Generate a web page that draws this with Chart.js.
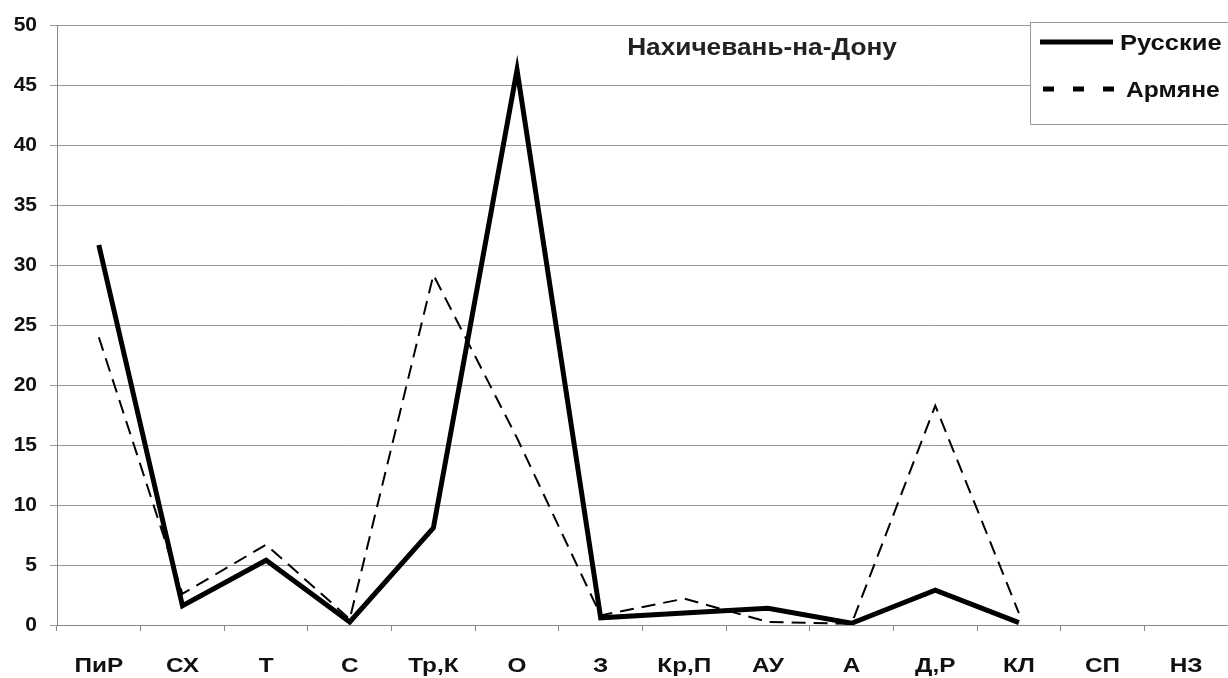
<!DOCTYPE html>
<html>
<head>
<meta charset="utf-8">
<script src="https://cdn.jsdelivr.net/npm/chart.js@4/dist/chart.umd.min.js"></script>
<style>
  html, body { margin: 0; padding: 0; background: #fff; }
  #wrap { width: 1228px; height: 678px; position: relative; }
</style>
</head>
<body>
<div id="wrap"><canvas id="chart" width="1228" height="678"></canvas></div>
<script>
const categories = ['ПиР', 'СХ', 'Т', 'С', 'Тр,К', 'О', 'З', 'Кр,П', 'АУ', 'А', 'Д,Р', 'КЛ', 'СП', 'НЗ'];
const russians = [31.7, 1.6, 5.4, 0.25, 8.1, 46.3, 0.6, 1.0, 1.4, 0.15, 2.9, 0.2, null, null];
const armenians = [24.0, 2.6, 6.7, 0.5, 29.2, 15.6, 0.8, 2.2, 0.25, 0.1, 18.3, 1.0, null, null];
const yTicks = [0, 5, 10, 15, 20, 25, 30, 35, 40, 45, 50];

const FONT = 'Liberation Sans, Arial, sans-serif';

// the original lettering is a slightly wide bold face: stretch text horizontally
function wideText(ctx, text, x, y, align, sx) {
  ctx.save();
  ctx.translate(x, y);
  ctx.scale(sx, 1);
  ctx.textAlign = align;
  ctx.fillText(text, 0, 0);
  ctx.restore();
}

// category labels, title inside the plot, framed legend top right
const overlay = {
  id: 'overlay',
  afterDraw(chart) {
    const ctx = chart.ctx;
    const x = chart.scales.x;
    ctx.save();
    ctx.fillStyle = '#111';
    ctx.textBaseline = 'alphabetic';
    ctx.font = 'bold 21px ' + FONT;
    categories.forEach((c, i) => {
      wideText(ctx, c, x.getPixelForTick(i), 672, 'center', 1.16);
    });

    ctx.fillStyle = '#222';
    ctx.font = 'bold 23px ' + FONT;
    wideText(ctx, 'Нахичевань-на-Дону', 762, 55, 'center', 1.14);

    ctx.fillStyle = '#fff';
    ctx.fillRect(1030, 22, 198, 102);
    ctx.strokeStyle = '#999';
    ctx.lineWidth = 1;
    ctx.strokeRect(1030.5, 22.5, 198, 102);

    ctx.strokeStyle = '#000';
    ctx.lineWidth = 5;
    ctx.setLineDash([]);
    ctx.beginPath(); ctx.moveTo(1040, 42); ctx.lineTo(1113, 42); ctx.stroke();
    ctx.setLineDash([11, 19]);
    ctx.beginPath(); ctx.moveTo(1043, 89); ctx.lineTo(1116, 89); ctx.stroke();
    ctx.setLineDash([]);

    ctx.fillStyle = '#111';
    ctx.font = 'bold 22px ' + FONT;
    wideText(ctx, 'Русские', 1120, 50, 'left', 1.16);
    wideText(ctx, 'Армяне', 1126, 97, 'left', 1.12);
    ctx.restore();
  }
};

new Chart(document.getElementById('chart'), {
  type: 'line',
  data: {
    labels: categories,
    datasets: [{
      label: 'Армяне',
      data: armenians,
      borderColor: '#000',
      borderWidth: 2,
      borderDash: [14, 8],
      pointRadius: 0,
      tension: 0,
      spanGaps: false,
    }, {
      label: 'Русские',
      data: russians,
      borderColor: '#000',
      borderWidth: 5,
      pointRadius: 0,
      tension: 0,
      spanGaps: false,
    }],
  },
  options: {
    responsive: false,
    animation: false,
    layout: { padding: { top: 22, right: 0, left: 0, bottom: 0 } },
    plugins: { legend: { display: false }, tooltip: { enabled: false } },
    scales: {
      x: {
        offset: true,
        grid: { offset: true, drawOnChartArea: false, drawTicks: true, tickLength: 6, color: '#888' },
        border: { color: '#888', width: 1 },
        ticks: { display: false, autoSkip: false },
        afterFit(scale) { scale.height = 53; },
      },
      y: {
        min: 0,
        max: 50,
        afterBuildTicks(scale) { scale.ticks = yTicks.map(v => ({ value: v })); },
        grid: { color: '#999', tickLength: 7 },
        border: { color: '#888', width: 1 },
        ticks: { color: '#111', font: { family: FONT, size: 21, weight: 'bold' }, padding: 13 },
        afterFit(scale) { scale.width = 57; },
      },
    },
  },
  plugins: [overlay],
});
</script>
</body>
</html>
